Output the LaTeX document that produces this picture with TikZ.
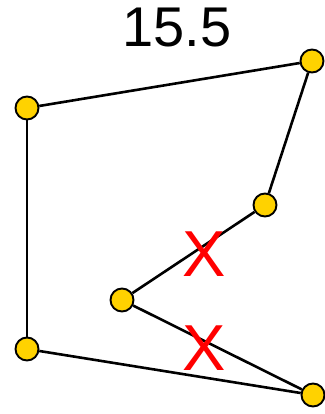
\documentclass[tikz,border=0pt]{standalone}
\usepackage{fontspec}
\setmainfont{Liberation Sans}
\definecolor{nodeyellow}{RGB}{255,210,0}
\begin{document}
\begin{tikzpicture}[x=1pt,y=-1pt,
  pt/.style={circle,draw=black,line width=1.9pt,fill=nodeyellow,minimum size=23pt,inner sep=0pt},
  edge/.style={draw=black,line width=2.6pt},
  cross/.style={text=red,font=\fontsize{65}{65}\selectfont,inner sep=0pt}]
\useasboundingbox (0,0) rectangle (324,414);
\node[font=\fontsize{56}{56}\selectfont,inner sep=0pt] (title) at (177,28) {15.5};
\node[pt] (na) at (27,108) {};
\node[pt] (nb) at (312,61) {};
\node[pt] (nc) at (265,205) {};
\node[pt] (nd) at (122,300) {};
\node[pt] (ne) at (27,349) {};
\node[pt] (nf) at (313,395) {};
\draw[edge] (na) -- (nb);
\draw[edge] (nb) -- (nc);
\draw[edge] (nc) -- (nd);
\draw[edge] (nd) -- (nf);
\draw[edge] (nf) -- (ne);
\draw[edge] (ne) -- (na);
\node[cross] (x1) at (204,254) {X};
\node[cross] (x2) at (204,348) {X};
\end{tikzpicture}
\end{document}
